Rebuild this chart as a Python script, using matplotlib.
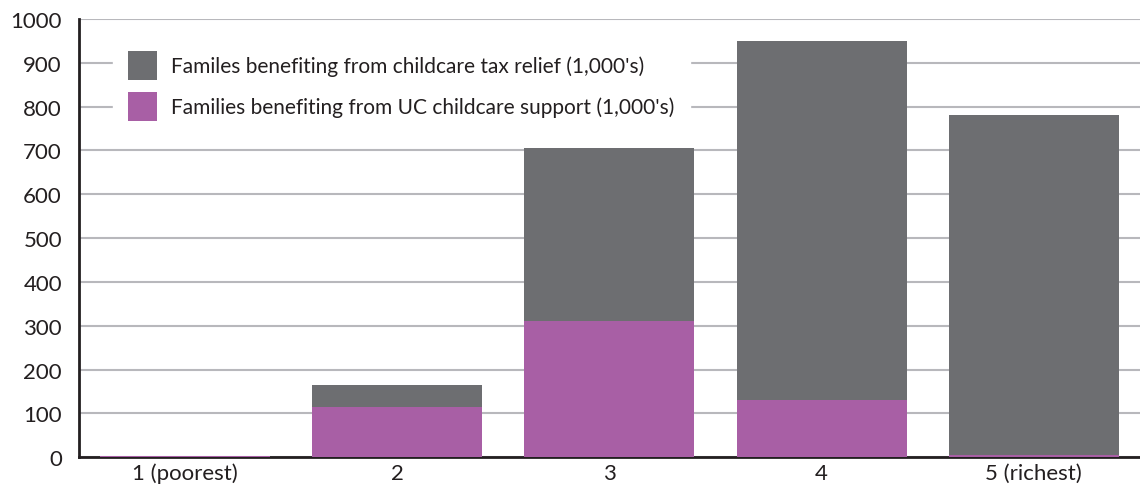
import numpy as np
from matplotlib import pyplot as plt

plt.rcParams['font.family'] = ['Lato', 'DejaVu Sans']

quintiles = ['1 (poorest)', '2', '3', '4', '5 (richest)']
tax_relief = [3, 164, 705, 950, 781]      # 1,000's
uc_support = [3, 114, 310, 130, 5]        # 1,000's

grey = '#6d6e71'
purple = '#a85fa5'

fig = plt.figure(figsize=(11.4, 4.89), dpi=100)
ax = fig.add_axes([0.069, 0.063, 0.931, 0.896])

x = np.arange(len(quintiles))
ax.bar(x, tax_relief, width=0.8, color=grey, zorder=2,
       label="Familes benefiting from childcare tax relief (1,000's)")
ax.bar(x, uc_support, width=0.8, color=purple, zorder=3,
       label="Families benefiting from UC childcare support (1,000's)")

ax.set_xlim(-0.5, 4.5)
ax.set_ylim(0, 1000)
ax.set_yticks(np.arange(0, 1001, 100))
ax.set_xticks(x)
ax.set_xticklabels(quintiles)
ax.yaxis.grid(True, color='#b8b8bc', linewidth=1.5, zorder=0)
ax.set_axisbelow(True)
ax.tick_params(axis='both', length=0, labelsize=16, colors='#231f20')
ax.tick_params(axis='x', pad=4)
ax.tick_params(axis='y', pad=12)

for s in ['top', 'right']:
    ax.spines[s].set_visible(False)
ax.spines['left'].set_color('#231f20')
ax.spines['left'].set_linewidth(2)
ax.spines['bottom'].set_color('#231f20')
ax.spines['bottom'].set_linewidth(2)

leg = ax.legend(loc='upper left', bbox_to_anchor=(0.032, 0.963), frameon=True,
                fontsize=15, handlelength=1.4, handleheight=1.75,
                handletextpad=0.65, labelspacing=0.6, borderpad=0.75,
                borderaxespad=0, fancybox=False)
leg.get_frame().set_edgecolor('white')
leg.get_frame().set_facecolor('white')
leg.get_frame().set_alpha(1)
for t in leg.get_texts():
    t.set_color('#231f20')

plt.savefig('out.png', dpi=100)
plt.close()
